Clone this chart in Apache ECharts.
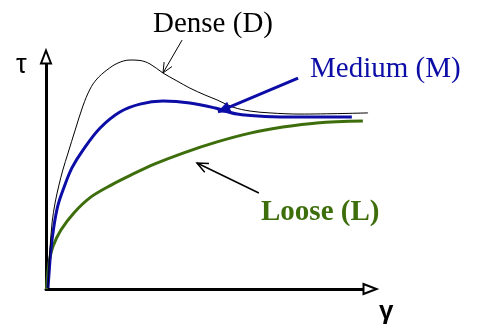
<!DOCTYPE html>
<html>
<head>
<meta charset="utf-8">
<script src="https://cdn.jsdelivr.net/npm/echarts@6/dist/echarts.min.js"></script>
<style>
  html, body { margin: 0; padding: 0; background: #fff; }
  #chart { width: 480px; height: 325px; }
</style>
</head>
<body>
<div id="chart"></div>
<script>
// Curvas tau-gamma (escala arbitraria 0..100 en ambos ejes)
const denseCurve = [
  [0.6, 0.4], [0.9, 8.2], [1.2, 16.8], [1.9, 28.9], [2.8, 37.1], [4.0, 44.8],
  [5.2, 51.3], [6.8, 58.6], [9.0, 68.5], [11.4, 78.9], [13.6, 86.2], [15.7, 90.5],
  [18.8, 94.4], [22.2, 97.4], [25.9, 98.7], [29.0, 98.5], [32.1, 97.0], [36.1, 93.1],
  [40.4, 89.7], [44.4, 86.6], [49.1, 83.6], [52.8, 81.5], [57.7, 78.4], [63.0, 76.7],
  [69.1, 75.9], [78.4, 75.4], [99.4, 75.9]
];
const mediumCurve = [
  [0.6, 0.4], [0.9, 6.0], [1.5, 16.8], [2.5, 27.6], [3.7, 36.2], [5.6, 44.0],
  [8.0, 52.2], [11.4, 59.9], [16.7, 69.4], [22.8, 76.3], [29.0, 79.7], [36.1, 81.0],
  [44.4, 80.2], [52.2, 78.0], [59.0, 75.4], [67.6, 74.4], [78.4, 74.1], [94.4, 74.1]
];
const looseCurve = [
  [0.15, 0], [0.5, 6.0], [1.1, 12.5], [2.2, 18.5], [4.6, 25.4], [8.6, 32.8],
  [13.9, 39.7], [20.1, 44.8], [26.2, 49.1], [33.6, 53.9], [42.3, 58.6], [52.8, 63.4],
  [63.0, 67.2], [73.1, 69.8], [83.6, 71.6], [97.8, 72.4]
];

// Flechas de las etiquetas: [x inicio, y inicio, x punta, y punta]
const denseArrow = [[42.0, 107.3, 36.1, 93.1]];
const mediumArrow = [[77.8, 90.9, 53.1, 76.3]];
const looseArrow = [[65.7, 41.4, 46.6, 54.3]];

const BLUE = '#0c0ca6';
const GREEN = '#3d6e0b';

// Serie custom que dibuja una flecha (línea + punta) en coordenadas del gráfico
function arrowSeries(data, color, width, headLen, filled) {
  return {
    type: 'custom',
    data: data,
    clip: false,
    silent: true,
    z: 5,
    renderItem: (params, api) => {
      const a = api.coord([api.value(0), api.value(1)]);
      const b = api.coord([api.value(2), api.value(3)]);
      const ang = Math.atan2(b[1] - a[1], b[0] - a[0]);
      const spread = 0.42;
      const l = [b[0] - headLen * Math.cos(ang - spread), b[1] - headLen * Math.sin(ang - spread)];
      const r = [b[0] - headLen * Math.cos(ang + spread), b[1] - headLen * Math.sin(ang + spread)];
      const head = filled
        ? { type: 'polygon', shape: { points: [l, b, r] }, style: { fill: color, stroke: color, lineWidth: 1 } }
        : { type: 'polyline', shape: { points: [l, b, r] }, style: { fill: null, stroke: color, lineWidth: width } };
      return {
        type: 'group',
        children: [
          { type: 'line', shape: { x1: a[0], y1: a[1], x2: b[0], y2: b[1] }, style: { stroke: color, lineWidth: width } },
          head
        ]
      };
    }
  };
}

function curveSeries(data, color, width) {
  return {
    type: 'line',
    data: data,
    smooth: 0.35,
    symbol: 'none',
    clip: false,
    silent: true,
    lineStyle: { color: color, width: width }
  };
}

const chart = echarts.init(document.getElementById('chart'), null, { renderer: 'canvas' });

const hiddenAxis = {
  type: 'value',
  min: 0,
  max: 100,
  axisTick: { show: false },
  axisLabel: { show: false },
  splitLine: { show: false },
  axisLine: {
    show: true,
    symbol: ['none', 'emptyTriangle'],
    symbolSize: [10, 13],
    lineStyle: { color: '#000', width: 3 }
  }
};

chart.setOption({
  animation: false,
  backgroundColor: '#fff',
  grid: { left: 46, right: 110, top: 57, bottom: 36 },
  xAxis: hiddenAxis,
  yAxis: hiddenAxis,
  series: [
    curveSeries(looseCurve, GREEN, 3),
    curveSeries(mediumCurve, BLUE, 3),
    curveSeries(denseCurve, '#000', 1),
    arrowSeries(denseArrow, '#000', 1, 11, false),
    arrowSeries(mediumArrow, BLUE, 3, 13, true),
    arrowSeries(looseArrow, '#000', 1.5, 12, false)
  ],
  graphic: [
    { type: 'text', left: 153, top: 10, style: { text: 'Dense (D)', font: '29px "Liberation Serif"', fill: '#000' } },
    { type: 'text', left: 310, top: 55, style: { text: 'Medium (M)', font: '29px "Liberation Serif"', fill: BLUE } },
    { type: 'text', left: 261, top: 198, style: { text: 'Loose (L)', font: 'bold 29px "Liberation Serif"', fill: GREEN } },
    { type: 'text', left: 16, top: 52, style: { text: 'τ', font: '27px "Liberation Sans"', fill: '#000' } },
    { type: 'text', left: 379, top: 299, style: { text: 'γ', font: 'bold 26px "Liberation Sans"', fill: '#000' } }
  ]
});
</script>
</body>
</html>
